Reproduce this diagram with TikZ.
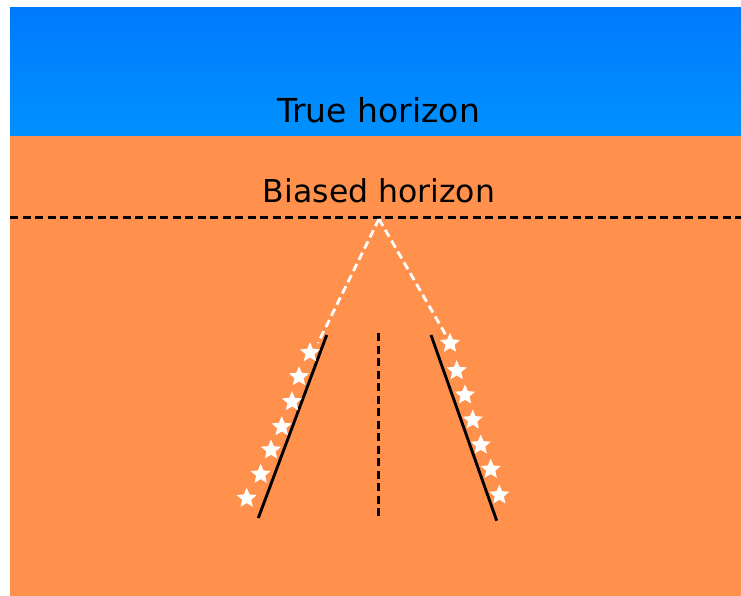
\documentclass[tikz,border=0pt]{standalone}
\usepackage{fontspec}
\setmainfont{DejaVu Sans}
\usetikzlibrary{shapes.geometric}
\definecolor{skytop}{HTML}{007AFE}
\definecolor{skybot}{HTML}{0091FE}
\definecolor{ground}{HTML}{FF914D}
\tikzset{
  lbl/.style={anchor=base, text=black, inner sep=0pt},
  edge/.style={line width=2.9pt, black},
  blackdash/.style={line width=2.8pt, black, dash pattern=on 8pt off 4.5pt},
  whitedash/.style={line width=2.8pt, white, dash pattern=on 8pt off 4.5pt},
  starmark/.style={star, star points=5, star point ratio=2.2, fill=white, draw=none, minimum size=21pt, inner sep=0pt}
}
\begin{document}
\begin{tikzpicture}[x=1pt,y=-1pt]
\useasboundingbox (0,0) rectangle (741,596);
\fill[white] (0,0) rectangle (741,596);
\shade[top color=skytop, bottom color=skybot] (10,8) rectangle (741,136);
\fill[ground] (10,136) rectangle (741,596);
\node[lbl, font=\fontsize{33}{38}\selectfont] (th) at (378.5,123) {True horizon};
\node[lbl, font=\fontsize{31.5}{36}\selectfont] (bh) at (379,203) {Biased horizon};
\coordinate (hl) at (10,217.3);
\coordinate (hr) at (741,217.3);
\draw[blackdash] (hl) -- (hr);
\coordinate (vp) at (379,219);
\coordinate (wl) at (318,343);
\coordinate (wr) at (447,337);
\draw[whitedash] (vp) -- (wl);
\draw[whitedash] (vp) -- (wr);
\coordinate (l1) at (326.7,335);
\coordinate (l2) at (258.3,518);
\coordinate (r1) at (431,335);
\coordinate (r2) at (496.7,520.7);
\coordinate (c1) at (378.3,333);
\coordinate (c2) at (378.3,517);
\draw[edge] (l1) -- (l2);
\draw[edge] (r1) -- (r2);
\draw[blackdash] (c1) -- (c2);
\foreach \i/\x/\y in {1/310/352.7,2/299/376.7,3/292/401.7,4/281.7/426.7,5/271/450,6/260.7/474.3,7/246.7/498.3}
  \node[starmark] (ls\i) at (\x,\y) {};
\foreach \i/\x/\y in {1/450/343.3,2/456.7/370.7,3/465/395,4/472.7/420,5/480.7/445,6/490.7/469.3,7/499.3/495}
  \node[starmark] (rs\i) at (\x,\y) {};
\end{tikzpicture}
\end{document}
